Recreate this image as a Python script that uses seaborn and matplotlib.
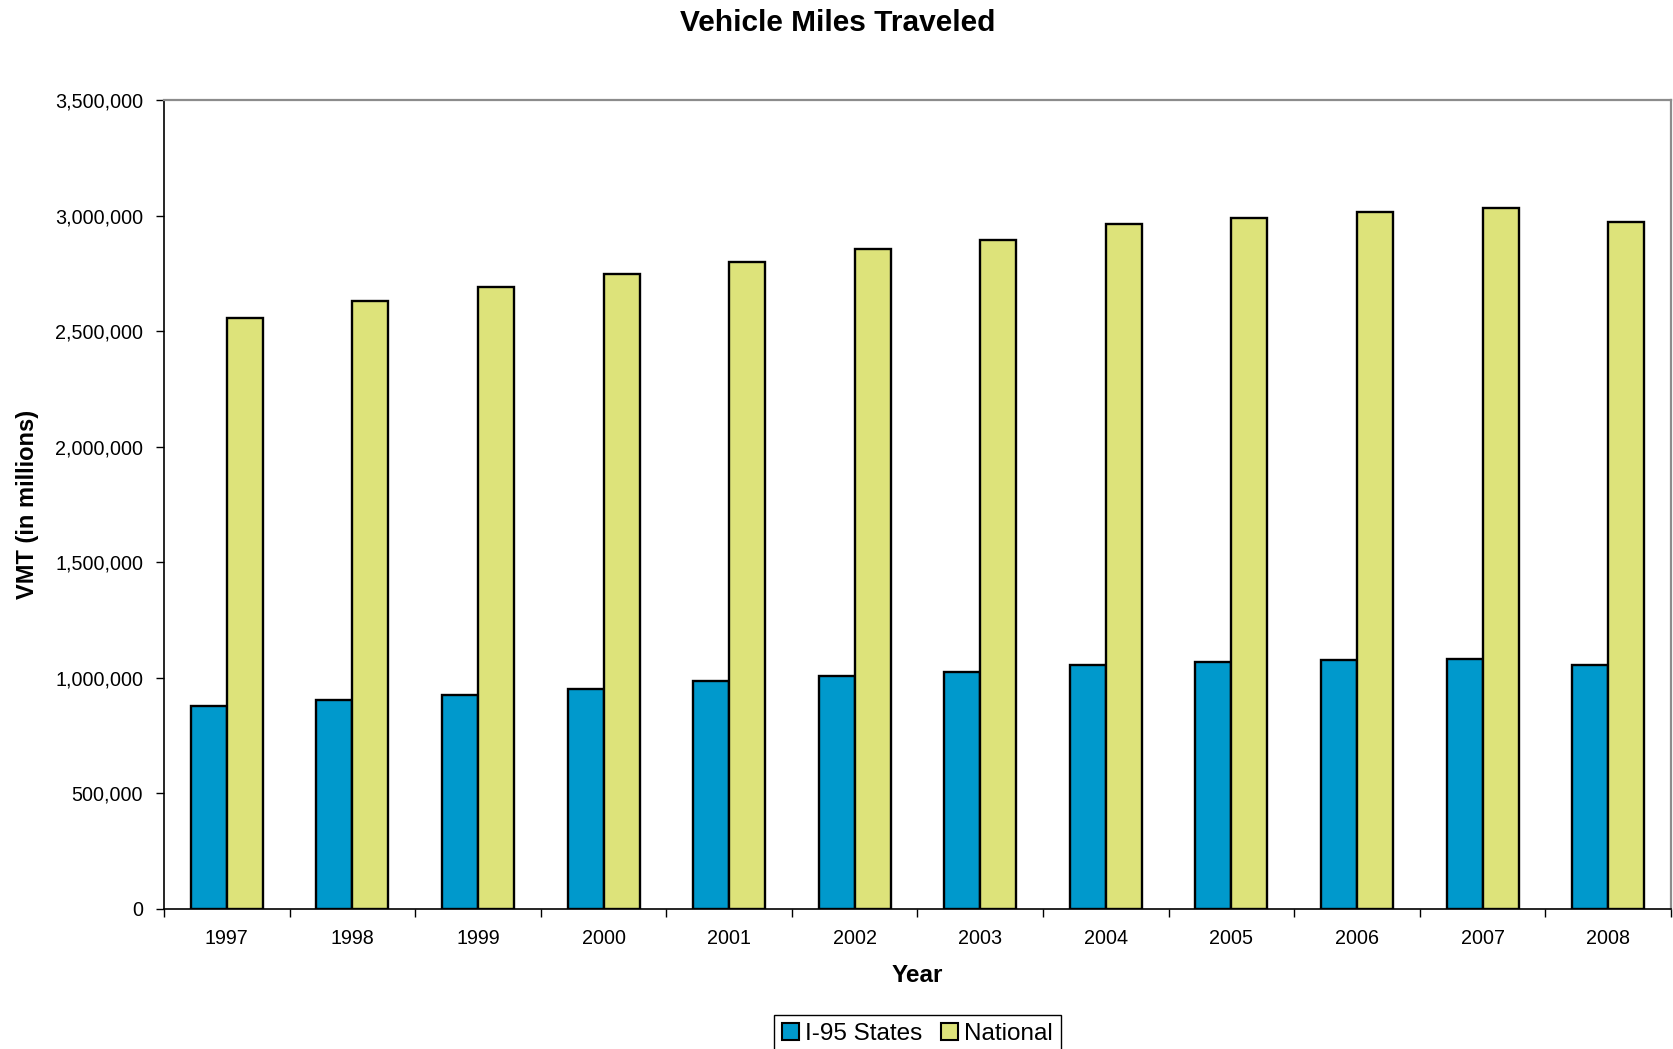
import matplotlib
matplotlib.use("Agg")
import matplotlib.pyplot as plt
import seaborn as sns
import pandas as pd
from matplotlib.patches import Patch
from matplotlib.ticker import FuncFormatter, MultipleLocator

years = ["1997", "1998", "1999", "2000", "2001", "2002",
         "2003", "2004", "2005", "2006", "2007", "2008"]
i95_states = [878000, 903000, 925000, 952000, 985000, 1007000,
              1023000, 1052000, 1066000, 1076000, 1079000, 1055000]
national = [2557000, 2628000, 2692000, 2748000, 2798000, 2857000,
            2892000, 2965000, 2991000, 3016000, 3031000, 2974000]
series_names = ["I-95 States", "National"]
colors = {"I-95 States": "#0099CC", "National": "#DDE37A"}

df = pd.DataFrame({
    "Year": years * 2,
    "VMT": i95_states + national,
    "Series": [series_names[0]] * len(years) + [series_names[1]] * len(years),
})

sns.set_theme(style="white")
plt.rcParams["font.family"] = ["Liberation Sans", "DejaVu Sans"]
plt.rcParams["text.color"] = "black"
plt.rcParams["axes.labelcolor"] = "black"
plt.rcParams["xtick.color"] = "black"
plt.rcParams["ytick.color"] = "black"

fig = plt.figure(figsize=(16.73, 10.49), dpi=100)
ax = fig.add_axes([164 / 1673, 1 - 908.5 / 1049, (1671 - 164) / 1673, (908.5 - 100) / 1049])

sns.barplot(data=df, x="Year", y="VMT", hue="Series", palette=colors,
            width=0.573, edgecolor="black", linewidth=1.7, ax=ax,
            legend=False, saturation=1)

ax.set_xlim(-0.5, len(years) - 0.5)
ax.set_ylim(0, 3500000)
ax.yaxis.set_major_locator(MultipleLocator(500000))
ax.yaxis.set_major_formatter(FuncFormatter(lambda v, p: f"{int(v):,}"))

# x ticks: labels at centres, tick marks at category boundaries
ax.set_xticks(range(len(years)))
ax.set_xticklabels(years)
ax.set_xticks([i - 0.5 for i in range(len(years) + 1)], minor=True)
ax.tick_params(axis="x", which="major", length=0, pad=15, labelsize=14.2, colors="black")
ax.tick_params(axis="x", which="minor", length=6, width=1, direction="out", color="black", bottom=True)
ax.tick_params(axis="y", which="major", length=6, width=1, direction="out", color="black",
               left=True, labelsize=14.2, pad=9, labelcolor="black")

for side in ["left", "bottom"]:
    ax.spines[side].set_color("black")
    ax.spines[side].set_linewidth(1.2)
for side in ["top", "right"]:
    ax.spines[side].set_color("#8c8c8c")
    ax.spines[side].set_linewidth(1.6)
    ax.spines[side].set_visible(True)

ax.set_xlabel("Year", fontsize=17.5, fontweight="bold", color="black")
ax.xaxis.set_label_coords(0.5, -0.069)
ax.set_ylabel("VMT (in millions)", fontsize=17, fontweight="bold", color="black")
ax.yaxis.set_label_coords(-0.083, 0.5)

fig.text(838 / 1673, 1 - 23 / 1049, "Vehicle Miles Traveled", ha="center", va="center",
         fontsize=21.5, fontweight="bold", color="black")

handles = [Patch(facecolor=colors[s], edgecolor="black", linewidth=1.5, label=s) for s in series_names]
leg = fig.legend(handles=handles, loc="lower center", bbox_to_anchor=(917.5 / 1673, -0.004),
                 ncol=2, frameon=True, fancybox=False, framealpha=1, edgecolor="black",
                 fontsize=17.5, handlelength=0.7, handleheight=0.7, handletextpad=0.25,
                 columnspacing=0.75, borderpad=0.33, borderaxespad=0)
leg.get_frame().set_linewidth(1.0)
for t in leg.get_texts():
    t.set_color("black")

fig.savefig("out.png", dpi=100)
